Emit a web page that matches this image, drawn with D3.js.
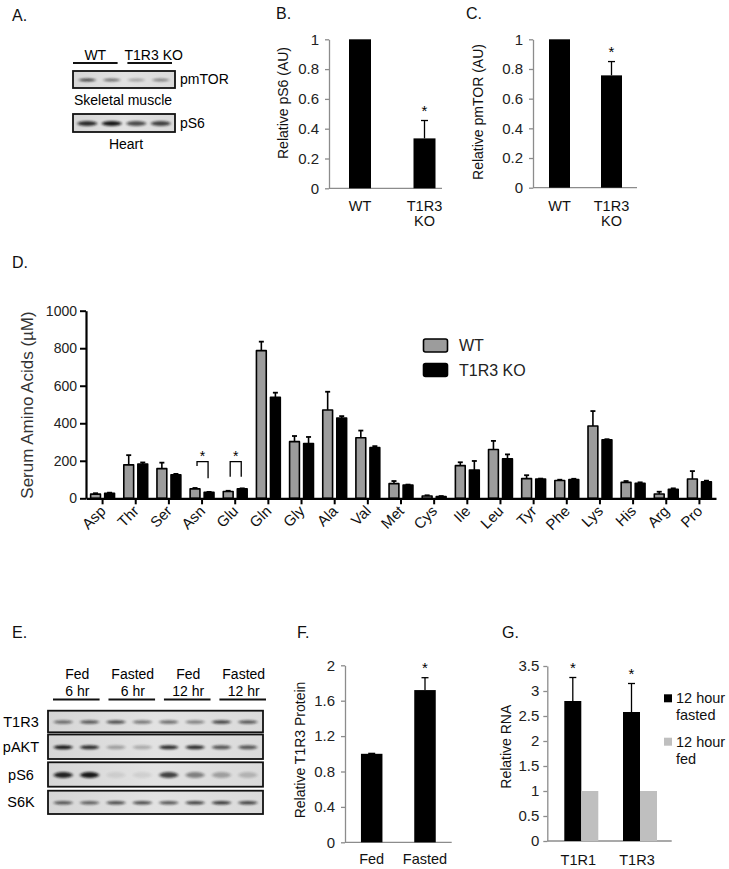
<!DOCTYPE html>
<html><head><meta charset="utf-8">
<script src="https://cdn.jsdelivr.net/npm/d3@7"></script>
<style>
body{margin:0;background:#fff;}
svg text{font-family:"Liberation Sans",Arial,Helvetica,sans-serif;}
</style></head><body>
<svg id="fig" width="729" height="869"></svg>
<script>
// ================= DATA =================
// Panel A (western blot band intensities, 4 lanes)
const blotALaneGroups = ["WT", "T1R3 KO"];
const blotARows = ["pmTOR", "pS6"];
const blotATissues = ["Skeletal muscle", "Heart"];
const blotA_pmTOR = [0.75, 0.55, 0.3, 0.45];
const blotA_pS6 = [0.85, 0.95, 0.7, 0.75];

// Panel B
const catsB = ["WT", "T1R3 KO"];
const valuesB = [1, 0.335];
const errorsB = [0, 0.12];
const starsB = [false, true];
const ticksB = [0, 0.2, 0.4, 0.6, 0.8, 1];

// Panel C
const catsC = ["WT", "T1R3 KO"];
const valuesC = [1, 0.757];
const errorsC = [0, 0.093];
const starsC = [false, true];
const ticksC = [0, 0.2, 0.4, 0.6, 0.8, 1];

// Panel D
const aminoAcids = ["Asp","Thr","Ser","Asn","Glu","Gln","Gly","Ala","Val","Met","Cys","Ile","Leu","Tyr","Phe","Lys","His","Arg","Pro"];
const seriesD = ["WT", "T1R3 KO"];
const wtMeans = [22, 178, 158, 50, 36, 787, 302, 471, 323, 78, 12, 174, 260, 105, 95, 385, 85, 23, 103];
const wtErrs  = [5, 52, 32, 5, 4, 48, 30, 97, 38, 14, 4, 18, 46, 18, 4, 80, 7, 12, 42];
const koMeans = [27, 183, 125, 32, 50, 538, 292, 428, 270, 70, 9, 151, 210, 103, 100, 312, 80, 48, 88];
const koErrs  = [3, 8, 5, 2, 3, 25, 35, 10, 8, 3, 3, 48, 24, 2, 4, 3, 5, 5, 6];
const ticksD = [0, 200, 400, 600, 800, 1000];
// significance brackets: [category, top, left-leg bottom, right-leg bottom]
const bracketsD = [["Asn", 195, 172, 107], ["Glu", 195, 115, 115]];

// Panel E (western blot band intensities, 8 lanes)
const blotEHeadTop = ["Fed", "Fasted", "Fed", "Fasted"];
const blotEHeadBottom = ["6 hr", "6 hr", "12 hr", "12 hr"];
const blotERows = ["T1R3", "pAKT", "pS6", "S6K"];
const blotE_T1R3 = [0.55, 0.65, 0.7, 0.5, 0.55, 0.45, 0.75, 0.65];
const blotE_pAKT = [0.95, 0.85, 0.3, 0.25, 0.85, 0.85, 0.65, 0.65];
const blotE_pS6  = [0.9, 0.95, 0.08, 0.08, 0.75, 0.45, 0.3, 0.2];
const blotE_S6K  = [0.65, 0.6, 0.7, 0.7, 0.65, 0.75, 0.8, 0.75];

// Panel F
const catsF = ["Fed", "Fasted"];
const valuesF = [1.0, 1.72];
const errorsF = [0.005, 0.14];
const starsF = [false, true];
const ticksF = [0, 0.4, 0.8, 1.2, 1.6, 2];
const tickLabelsF = ["0", "0.4", "0.8", "1.2", "1.6", "2"];

// Panel G
const genesG = ["T1R1", "T1R3"];
const seriesG = ["12 hour fasted", "12 hour fed"];
const fastedG = [2.8, 2.58];
const fastedErrG = [0.47, 0.57];
const fedG = [1, 1];
const starsG = [true, true];
const ticksG = [0, 0.5, 1, 1.5, 2, 2.5, 3, 3.5];

// ================= DRAWING =================
const svg = d3.select("#fig");
svg.append("rect").attr("width", 729).attr("height", 869).attr("fill", "#fff");
const defs = svg.append("defs");
defs.append("filter").attr("id", "blur").attr("x", "-50%").attr("y", "-100%").attr("width", "200%").attr("height", "300%")
  .append("feGaussianBlur").attr("stdDeviation", "1.6 0.8");
const grad = defs.append("linearGradient").attr("id", "blotbg").attr("x1", 0).attr("x2", 1);
grad.append("stop").attr("offset", "0%").attr("stop-color", "#d6d6d6");
grad.append("stop").attr("offset", "50%").attr("stop-color", "#e2e2e2");
grad.append("stop").attr("offset", "100%").attr("stop-color", "#dadada");

const AX = "#8c8c8c";
function panelLabel(t, x, y) {
  svg.append("text").attr("x", x).attr("y", y).attr("font-size", 16).attr("fill", "#111").text(t);
}

function blot(x0, x1, y0, y1, vals, bandH, bandFrac) {
  const g = svg.append("g");
  g.append("rect").attr("x", x0).attr("y", y0).attr("width", x1 - x0).attr("height", y1 - y0)
    .attr("fill", "url(#blotbg)");
  const lanes = d3.scaleBand().domain(d3.range(vals.length)).range([x0 + 2, x1 - 2]);
  const cy = (y0 + y1) / 2 + 0.5;
  g.selectAll("ellipse").data(vals).join("ellipse")
    .attr("cx", (d, i) => lanes(i) + lanes.bandwidth() / 2)
    .attr("cy", cy)
    .attr("rx", lanes.bandwidth() * bandFrac / 2)
    .attr("ry", bandH / 2)
    .attr("fill", "#111")
    .attr("opacity", d => d)
    .attr("filter", "url(#blur)");
  g.append("rect").attr("x", x0).attr("y", y0).attr("width", x1 - x0).attr("height", y1 - y0)
    .attr("fill", "none").attr("stroke", "#111").attr("stroke-width", 1.8);
}

// ---------- Panel A ----------
panelLabel("A.", 12, 21);
{
  const grp = d3.scaleBand().domain(blotALaneGroups).range([73, 172]).paddingInner(0.18);
  blotALaneGroups.forEach(gname => {
    const gx = grp(gname);
    svg.append("line").attr("x1", gx).attr("x2", gx + grp.bandwidth()).attr("y1", 63).attr("y2", 63)
      .attr("stroke", "#111").attr("stroke-width", 2);
    svg.append("text").attr("x", gx + grp.bandwidth() / 2 + (gname === "WT" ? 0 : 4)).attr("y", 60)
      .attr("text-anchor", "middle").attr("font-size", 14).text(gname);
  });
  blot(73, 175, 71, 88, blotA_pmTOR, 3, 0.7);
  blot(73, 175, 114, 132, blotA_pS6, 5, 0.8);
  svg.append("text").attr("x", 180).attr("y", 84).attr("font-size", 14).text(blotARows[0]);
  svg.append("text").attr("x", 180).attr("y", 128).attr("font-size", 14).text(blotARows[1]);
  svg.append("text").attr("x", 74).attr("y", 105).attr("font-size", 14).text(blotATissues[0]);
  svg.append("text").attr("x", 126).attr("y", 149).attr("text-anchor", "middle").attr("font-size", 14).text(blotATissues[1]);
}

// ---------- simple Excel-style bar panels ----------
function barPanel(o) {
  const g = svg.append("g");
  const y = d3.scaleLinear().domain([0, o.ymax]).range([o.yBase, o.yTop]);
  const n = o.cats.length;
  const x = d3.scaleBand().domain(o.cats).range([o.c0 - o.step / 2, o.c0 + o.step * (n - 0.5)]);
  const ax = g.append("g").attr("transform", `translate(${o.axisX},0)`)
    .call(d3.axisLeft(y).tickValues(o.ticks).tickSize(4).tickSizeOuter(0).tickPadding(o.tickPad || 6)
      .tickFormat((d, i) => o.tickLabels ? o.tickLabels[i] : String(d)));
  ax.attr("font-size", 15).attr("font-family", "Liberation Sans, Arial, sans-serif");
  ax.select(".domain").attr("stroke", AX).attr("stroke-width", 1.3);
  ax.selectAll(".tick line").attr("stroke", AX).attr("stroke-width", 1.3);
  ax.selectAll(".tick text").attr("fill", "#222");
  g.append("line").attr("x1", o.axisX).attr("x2", o.axisEnd).attr("y1", y(0)).attr("y2", y(0))
    .attr("stroke", AX).attr("stroke-width", 1.3);
  const cx = c => x(c) + x.bandwidth() / 2;
  g.selectAll("rect.bar").data(o.cats).join("rect").attr("class", "bar")
    .attr("x", c => cx(c) - o.barW / 2).attr("width", o.barW)
    .attr("y", (c, i) => y(o.vals[i])).attr("height", (c, i) => y(0) - y(o.vals[i]))
    .attr("fill", "#000");
  o.cats.forEach((c, i) => {
    if (o.errs[i] > 0) {
      const x0 = cx(c) + (o.errOff || 0);
      g.append("line").attr("x1", x0).attr("x2", x0).attr("y1", y(o.vals[i])).attr("y2", y(o.vals[i] + o.errs[i]))
        .attr("stroke", "#000").attr("stroke-width", 1.3);
      g.append("line").attr("x1", x0 - 3.5).attr("x2", x0 + 3.5).attr("y1", y(o.vals[i] + o.errs[i])).attr("y2", y(o.vals[i] + o.errs[i]))
        .attr("stroke", "#000").attr("stroke-width", 1.3);
    }
    if (o.stars[i]) {
      g.append("text").attr("x", cx(c)).attr("y", y(o.vals[i] + o.errs[i]) - 5)
        .attr("text-anchor", "middle").attr("font-size", 15).text("*");
    }
    const lines = o.xLabelLines ? o.xLabelLines[i] : [c];
    lines.forEach((t, k) => {
      g.append("text").attr("x", cx(c)).attr("y", o.xLabelY + k * 15).attr("text-anchor", "middle")
        .attr("font-size", 14.5).attr("fill", "#111").text(t);
    });
  });
  g.append("text").attr("transform", `translate(${o.yLabelX},${o.yLabelY}) rotate(-90)`)
    .attr("text-anchor", "middle").attr("font-size", 14).attr("fill", "#111").text(o.yLabel);
  return {x, y, g};
}

// ---------- Panel B ----------
panelLabel("B.", 276, 19);
barPanel({cats: catsB, vals: valuesB, errs: errorsB, stars: starsB, ticks: ticksB, ymax: 1,
  yBase: 188.3, yTop: 39.3, c0: 360, step: 64.5, barW: 22, axisX: 329, axisEnd: 442,
  xLabelY: 211, xLabelLines: [["WT"], ["T1R3", "KO"]], yLabel: "Relative pS6 (AU)", yLabelX: 288, yLabelY: 103});

// ---------- Panel C ----------
panelLabel("C.", 466, 19);
barPanel({cats: catsC, vals: valuesC, errs: errorsC, stars: starsC, ticks: ticksC, ymax: 1,
  yBase: 187.7, yTop: 39.3, c0: 559.5, step: 52, barW: 21, axisX: 533, axisEnd: 637,
  xLabelY: 211, xLabelLines: [["WT"], ["T1R3", "KO"]], yLabel: "Relative pmTOR (AU)", yLabelX: 483, yLabelY: 112});

// ---------- Panel D ----------
panelLabel("D.", 12, 268);
{
  const g = svg.append("g");
  const y = d3.scaleLinear().domain([0, 1000]).range([498.3, 310.7]);
  const x = d3.scaleBand().domain(aminoAcids).range([86, 716]);
  const xs = d3.scaleBand().domain(seriesD).range([0, x.bandwidth()]).paddingInner(0.3).paddingOuter(0.33);
  const colors = {"WT": "#9c9c9c", "T1R3 KO": "#000"};
  const data = aminoAcids.map((a, i) => [
    {a, s: "WT", v: wtMeans[i], e: wtErrs[i]},
    {a, s: "T1R3 KO", v: koMeans[i], e: koErrs[i]}]).flat();
  // error bars (upper only)
  data.forEach(d => {
    const cx = x(d.a) + xs(d.s) + xs.bandwidth() / 2;
    g.append("line").attr("x1", cx).attr("x2", cx).attr("y1", y(d.v)).attr("y2", y(d.v + d.e))
      .attr("stroke", "#000").attr("stroke-width", 1.6);
    g.append("line").attr("x1", cx - 2.5).attr("x2", cx + 2.5).attr("y1", y(d.v + d.e)).attr("y2", y(d.v + d.e))
      .attr("stroke", "#000").attr("stroke-width", 1.8);
  });
  g.selectAll("rect.bd").data(data).join("rect").attr("class", "bd")
    .attr("x", d => x(d.a) + xs(d.s)).attr("width", xs.bandwidth())
    .attr("y", d => y(d.v)).attr("height", d => y(0) - y(d.v))
    .attr("fill", d => colors[d.s]).attr("stroke", "#000").attr("stroke-width", 1.6)
    .attr("stroke-linejoin", "round");
  // axes
  const ya = g.append("g").attr("transform", "translate(86,0)")
    .call(d3.axisLeft(y).tickValues(ticksD).tickSize(6).tickSizeOuter(0).tickPadding(3).tickFormat(d3.format("d")));
  ya.attr("font-size", 14).attr("font-family", "Liberation Sans, Arial, sans-serif");
  ya.select(".domain").attr("stroke", "#000").attr("stroke-width", 2.2);
  ya.selectAll(".tick line").attr("stroke", "#000").attr("stroke-width", 2);
  ya.selectAll(".tick text").attr("fill", "#222");
  const xa = g.append("g").attr("transform", "translate(0,498.3)")
    .call(d3.axisBottom(x).tickSize(6).tickSizeOuter(0).tickFormat(""));
  xa.select(".domain").attr("stroke", "#000").attr("stroke-width", 2.2);
  xa.selectAll(".tick line").attr("stroke", "#000").attr("stroke-width", 2);
  aminoAcids.forEach(a => {
    const cx = x(a) + x.bandwidth() / 2;
    g.append("text").attr("transform", `translate(${cx + 4},${512}) rotate(-45)`)
      .attr("text-anchor", "end").attr("font-size", 15).attr("fill", "#111").text(a);
  });
  g.append("text").attr("transform", "translate(33,405) rotate(-90)").attr("text-anchor", "middle")
    .attr("font-size", 17).attr("fill", "#333").text("Serum Amino Acids (\u00b5M)");
  // brackets
  bracketsD.forEach(([a, top, lb, rb]) => {
    const xl = x(a) + xs("WT") + xs.bandwidth() / 2 + 2;
    const xr = x(a) + xs("T1R3 KO") + xs.bandwidth() / 2 - 1;
    g.append("path").attr("d", `M${xl},${y(lb)}V${y(top)}H${xr}V${y(rb)}`)
      .attr("fill", "none").attr("stroke", "#000").attr("stroke-width", 1.3);
    g.append("text").attr("x", (xl + xr) / 2).attr("y", y(top) - 0.5).attr("text-anchor", "middle")
      .attr("font-size", 14).text("*");
  });
  // legend
  seriesD.forEach((s, i) => {
    const ly = 339 + i * 24.5;
    g.append("rect").attr("x", 423.5).attr("y", ly).attr("width", 24).attr("height", 13).attr("rx", 2)
      .attr("fill", colors[s]).attr("stroke", "#000").attr("stroke-width", 1.6);
    g.append("text").attr("x", 459).attr("y", ly + 12).attr("font-size", 16).attr("fill", "#222").text(s);
  });
}

// ---------- Panel E ----------
panelLabel("E.", 12, 638);
{
  const grp = d3.scaleBand().domain(blotEHeadTop.map((d, i) => i)).range([53, 266]).paddingInner(0.16);
  blotEHeadTop.forEach((t, i) => {
    const gx = grp(i);
    const c = gx + grp.bandwidth() / 2 + 1;
    svg.append("text").attr("x", c).attr("y", 679).attr("text-anchor", "middle").attr("font-size", 14).text(t);
    svg.append("text").attr("x", c).attr("y", 696).attr("text-anchor", "middle").attr("font-size", 14).text(blotEHeadBottom[i]);
    svg.append("line").attr("x1", gx).attr("x2", gx + grp.bandwidth()).attr("y1", 699.5).attr("y2", 699.5)
      .attr("stroke", "#111").attr("stroke-width", 2);
  });
  const rows = [blotE_T1R3, blotE_pAKT, blotE_pS6, blotE_S6K];
  const rowY = [[710.7, 732.3], [734.5, 759], [762.3, 786.7], [790.7, 814]];
  const bandH = [3.5, 4, 6, 3.5];
  rows.forEach((vals, r) => {
    blot(48, 263, rowY[r][0], rowY[r][1], vals, bandH[r], 0.72);
    svg.append("text").attr("x", 21).attr("y", (rowY[r][0] + rowY[r][1]) / 2 + 5)
      .attr("text-anchor", "middle").attr("font-size", 14.5).text(blotERows[r]);
  });
}

// ---------- Panel F ----------
panelLabel("F.", 297, 638);
barPanel({cats: catsF, vals: valuesF, errs: errorsF, stars: starsF, ticks: ticksF, tickLabels: tickLabelsF, ymax: 2,
  yBase: 842.3, yTop: 665.3, c0: 371.7, step: 53.3, barW: 21.5, axisX: 345, axisEnd: 451.7,
  xLabelY: 864, yLabel: "Relative T1R3 Protein", yLabelX: 305, yLabelY: 750});

// ---------- Panel G ----------
panelLabel("G.", 502, 638);
{
  const g = svg.append("g");
  const y = d3.scaleLinear().domain([0, 3.5]).range([841, 666]);
  const x = d3.scaleBand().domain(genesG).range([581.3 - 29.35, 640 + 29.35]);
  const xs = d3.scaleBand().domain(seriesG).range([-17, 17]);
  const colors = {"12 hour fasted": "#000", "12 hour fed": "#bfbfbf"};
  const ax = g.append("g").attr("transform", "translate(547.3,0)")
    .call(d3.axisLeft(y).tickValues(ticksG).tickSize(4).tickSizeOuter(0).tickPadding(4).tickFormat(d => String(d)));
  ax.attr("font-size", 15).attr("font-family", "Liberation Sans, Arial, sans-serif");
  ax.select(".domain").attr("stroke", AX).attr("stroke-width", 1.3);
  ax.selectAll(".tick line").attr("stroke", AX).attr("stroke-width", 1.3);
  ax.selectAll(".tick text").attr("fill", "#222");
  g.append("line").attr("x1", 547.3).attr("x2", 671.7).attr("y1", y(0)).attr("y2", y(0))
    .attr("stroke", AX).attr("stroke-width", 1.3);
  genesG.forEach((gene, i) => {
    const c = x(gene) + x.bandwidth() / 2;
    const vals = [fastedG[i], fedG[i]];
    seriesG.forEach((s, k) => {
      g.append("rect").attr("x", c + xs(s)).attr("width", xs.bandwidth())
        .attr("y", y(vals[k])).attr("height", y(0) - y(vals[k])).attr("fill", colors[s]);
    });
    const ex = c + xs(seriesG[0]) + xs.bandwidth() / 2;
    const top = y(fastedG[i] + fastedErrG[i]);
    g.append("line").attr("x1", ex).attr("x2", ex).attr("y1", y(fastedG[i])).attr("y2", top).attr("stroke", "#000").attr("stroke-width", 1.3);
    g.append("line").attr("x1", ex - 3.5).attr("x2", ex + 3.5).attr("y1", top).attr("y2", top).attr("stroke", "#000").attr("stroke-width", 1.3);
    if (starsG[i]) g.append("text").attr("x", ex).attr("y", top - 5).attr("text-anchor", "middle").attr("font-size", 15).text("*");
    g.append("text").attr("x", c - 3).attr("y", 865).attr("text-anchor", "middle").attr("font-size", 14.5).attr("fill", "#111").text(gene);
  });
  g.append("text").attr("transform", "translate(511,746.7) rotate(-90)").attr("text-anchor", "middle")
    .attr("font-size", 14).attr("fill", "#111").text("Relative RNA");
  // legend
  seriesG.forEach((s, k) => {
    const ly = 698.3 + k * 43.4;
    const parts = s.split(" ");
    g.append("rect").attr("x", 664).attr("y", ly - 4).attr("width", 8).attr("height", 8).attr("fill", colors[s]);
    g.append("text").attr("x", 676).attr("y", ly + 5).attr("font-size", 14.5).attr("fill", "#111").text(parts[0] + " " + parts[1]);
    g.append("text").attr("x", 676).attr("y", ly + 22).attr("font-size", 14.5).attr("fill", "#111").text(parts.slice(2).join(" "));
  });
}
</script>
</body></html>
